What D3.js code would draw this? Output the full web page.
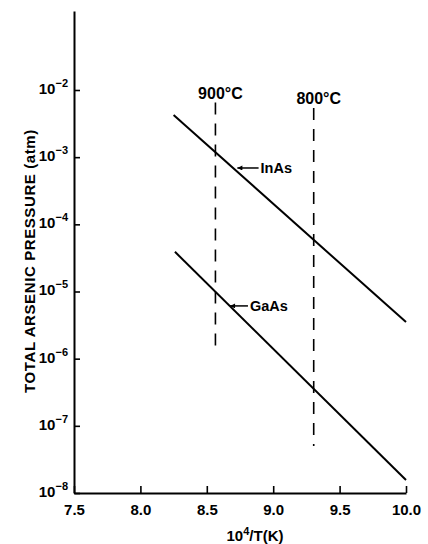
<!DOCTYPE html>
<html>
<head>
<meta charset="utf-8">
<title>Total arsenic pressure</title>
<script src="https://d3js.org/d3.v7.min.js"></script>
<style>
  body { margin: 0; background: #fff; }
  svg { display: block; font-family: "Liberation Sans", Arial, sans-serif; font-weight: bold; }
</style>
</head>
<body>
<svg width="428" height="544"></svg>
<script>
// values
const xTicks = [7.5, 8.0, 8.5, 9.0, 9.5, 10.0];
const yTickExps = [-2, -3, -4, -5, -6, -7, -8];

const inAsX = [8.25, 10.0];
const inAsP = [4.25e-3, 3.5e-6];
const gaAsX = [8.26, 10.0];
const gaAsP = [3.9e-5, 1.56e-8];

// isotherms (dashed)
const isoLabels = ["900°C", "800°C"];
const isoX = [8.565, 9.305];
const isoTop = [6.5e-3, 5.4e-3];
const isoBottom = [1.35e-6, 5.0e-8];

// callouts
const calloutLabels = ["InAs", "GaAs"];
const calloutTipX = [8.73, 8.675];
const calloutTipP = [6.9e-4, 6.1e-6];
const calloutTextX = [8.905, 8.825];

const svg = d3.select("svg");

const x = d3.scaleLinear().domain([7.5, 10.0]).range([74, 406]);
const y = d3.scaleLog().domain([1e-8, 0.15]).range([493, 11]);

// arrowhead
svg.append("defs").append("marker")
    .attr("id", "arr")
    .attr("viewBox", "0 0 10 10")
    .attr("refX", 10).attr("refY", 5)
    .attr("markerWidth", 7).attr("markerHeight", 5)
    .attr("markerUnits", "userSpaceOnUse")
    .attr("orient", "auto")
    .append("path").attr("d", "M0,0L10,5L0,10z").attr("fill", "#000");

// axes
let xAxis = svg.append("g")
    .attr("transform", "translate(0,493)")
    .call(d3.axisBottom(x).tickValues(xTicks).tickSizeInner(-7).tickSizeOuter(0)
        .tickPadding(11).tickFormat(d3.format(".1f")));

let yAxis = svg.append("g")
    .attr("transform", "translate(74,0)")
    .call(d3.axisLeft(y).tickValues(yTickExps.map(e => Math.pow(10, e)))
        .tickSizeInner(-6).tickSizeOuter(0).tickFormat(""));

svg.selectAll(".domain").attr("stroke-width", 2).attr("stroke", "#000");
svg.selectAll(".tick line").attr("stroke-width", 1.6).attr("stroke", "#000");
xAxis.selectAll("text")
    .attr("font-size", 15).attr("font-weight", "bold")
    .attr("font-family", "Liberation Sans, Arial, sans-serif").attr("fill", "#000");

// y tick labels with exponent
let yl = svg.append("g").selectAll("text")
    .data(yTickExps)
    .enter().append("text")
    .attr("x", 68)
    .attr("y", d => y(Math.pow(10, d)) + 4)
    .attr("text-anchor", "end")
    .attr("font-size", 15);
yl.append("tspan").text("10");
yl.append("tspan").attr("dy", -7).attr("font-size", 11).text(d => "\u2212" + Math.abs(d));

// axis titles
svg.append("text")
    .attr("transform", "translate(35,261) rotate(-90)")
    .attr("text-anchor", "middle")
    .attr("font-size", 15)
    .attr("letter-spacing", 0.6)
    .text("TOTAL ARSENIC PRESSURE (atm)");

let xt = svg.append("text")
    .attr("x", 255).attr("y", 541)
    .attr("text-anchor", "middle")
    .attr("font-size", 15);
xt.append("tspan").text("10");
xt.append("tspan").attr("dy", -6).attr("font-size", 11).text("4");
xt.append("tspan").attr("dy", 6).text("/T(K)");

// isotherms
isoX.forEach((d, i) => {
    svg.append("line")
        .attr("x1", x(d)).attr("x2", x(d))
        .attr("y1", y(isoTop[i])).attr("y2", y(isoBottom[i]))
        .attr("stroke", "#000").attr("stroke-width", 1.6)
        .attr("stroke-dasharray", "12,9");
    svg.append("text")
        .attr("x", x(d) + 5).attr("y", y(isoTop[i]) - 4)
        .attr("text-anchor", "middle")
        .attr("font-size", 16)
        .text(isoLabels[i]);
});

// data lines
const line = d3.line().x(d => x(d[0])).y(d => y(d[1]));
[[inAsX, inAsP], [gaAsX, gaAsP]].forEach(s => {
    svg.append("path")
        .datum(d3.zip(s[0], s[1]))
        .attr("d", line)
        .attr("fill", "none")
        .attr("stroke", "#000")
        .attr("stroke-width", 2);
});

// callouts
calloutLabels.forEach((lab, i) => {
    let ty = y(calloutTipP[i]);
    svg.append("line")
        .attr("x1", x(calloutTextX[i]) - 2).attr("y1", ty)
        .attr("x2", x(calloutTipX[i])).attr("y2", ty)
        .attr("stroke", "#000").attr("stroke-width", 1.5)
        .attr("marker-end", "url(#arr)");
    svg.append("text")
        .attr("x", x(calloutTextX[i])).attr("y", ty + 5)
        .attr("font-size", 14.5)
        .text(lab);
});
</script>
</body>
</html>
